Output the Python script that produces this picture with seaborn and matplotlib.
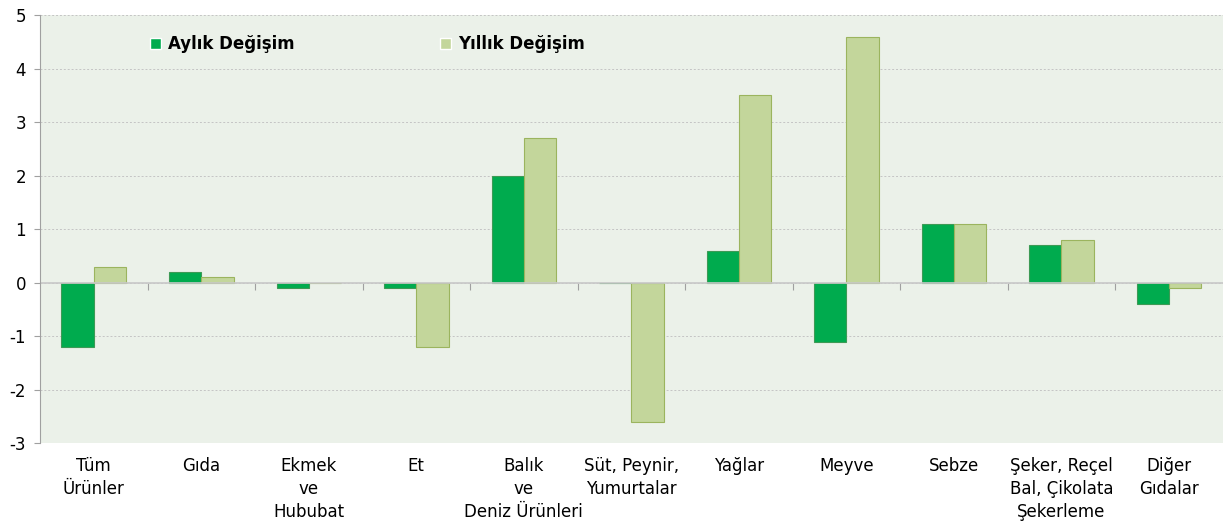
import numpy as np
import pandas as pd
import matplotlib
matplotlib.use("Agg")
import matplotlib.pyplot as plt
import seaborn as sns

# veriler
kategoriler = ["Tüm\nÜrünler", "Gıda", "Ekmek\nve\nHububat", "Et",
               "Balık\nve\nDeniz Ürünleri", "Süt, Peynir,\nYumurtalar",
               "Yağlar", "Meyve", "Sebze",
               "Şeker, Reçel\nBal, Çikolata\nŞekerleme", "Diğer\nGıdalar"]
aylik = [-1.2, 0.2, -0.1, -0.1, 2.0, 0.0, 0.6, -1.1, 1.1, 0.7, -0.4]
yillik = [0.3, 0.1, 0.0, -1.2, 2.7, -2.6, 3.5, 4.6, 1.1, 0.8, -0.1]
seriler = ["Aylık Değişim", "Yıllık Değişim"]
yticks = [-3, -2, -1, 0, 1, 2, 3, 4, 5]

df = pd.DataFrame({
    "kategori": kategoriler * 2,
    "deger": aylik + yillik,
    "seri": [seriler[0]] * len(kategoriler) + [seriler[1]] * len(kategoriler),
})

sns.set_style("white")
plt.rcParams["font.family"] = ["DejaVu Sans"]
plt.rcParams["text.color"] = "black"
plt.rcParams["xtick.color"] = "black"
plt.rcParams["ytick.color"] = "black"

fig = plt.figure(figsize=(12.23, 5.22), dpi=100)
ax = fig.add_axes([0.0327, 0.151, 0.967, 0.820])
ax.set_facecolor("#ebf1e9")

renkler = {seriler[0]: "#00ab4e", seriler[1]: "#c3d69b"}
sns.barplot(data=df, x="kategori", y="deger", hue="seri", order=kategoriler,
            hue_order=seriler, palette=renkler, width=0.6, saturation=1,
            ax=ax, errorbar=None)

kenar = ["#3c9a55", "#9bb45e"]
for cont, k in zip(ax.containers, kenar):
    for p in cont:
        p.set_edgecolor(k)
        p.set_linewidth(0.8)

ax.set_ylim(-3, 5)
ax.set_xlim(-0.5, len(kategoriler) - 0.5)
ax.set_yticks(yticks)
ax.set_yticklabels([str(t) for t in yticks], fontsize=12)
ax.grid(axis="y", color="#c4c4c4", linestyle=(0, (2, 2)), linewidth=0.7)
ax.set_axisbelow(True)

ax.tick_params(axis="y", length=4, color="#a0a0a0", labelcolor="black", pad=6,
               direction="out", left=True)
ax.tick_params(axis="x", length=0, pad=10, labelsize=12, labelcolor="black")
for lbl in ax.get_xticklabels():
    lbl.set_linespacing(1.35)
    lbl.set_verticalalignment("top")

for s in ["top", "right", "bottom"]:
    ax.spines[s].set_visible(False)
ax.spines["left"].set_color("#a0a0a0")
ax.set_xlabel("")
ax.set_ylabel("")

# kategori ekseni sıfırda
ax.axhline(0, color="#c8c8c8", linewidth=1.2, zorder=1)
sec = ax.secondary_xaxis(3 / 8)
sec.set_xticks(np.arange(0.5, len(kategoriler) - 1, 1.0))
sec.set_xticklabels([])
sec.tick_params(length=5, color="#a0a0a0", direction="out")
sec.spines["bottom"].set_visible(False)

leg = ax.legend(loc="center left", bbox_to_anchor=(0.08, 0.932), ncol=2,
                frameon=False, fontsize=12, handlelength=0.7, handleheight=0.7,
                handletextpad=0.4, columnspacing=8.7)
for t in leg.get_texts():
    t.set_fontweight("bold")
    t.set_color("black")

fig.savefig("out.png", dpi=100, facecolor="white")
